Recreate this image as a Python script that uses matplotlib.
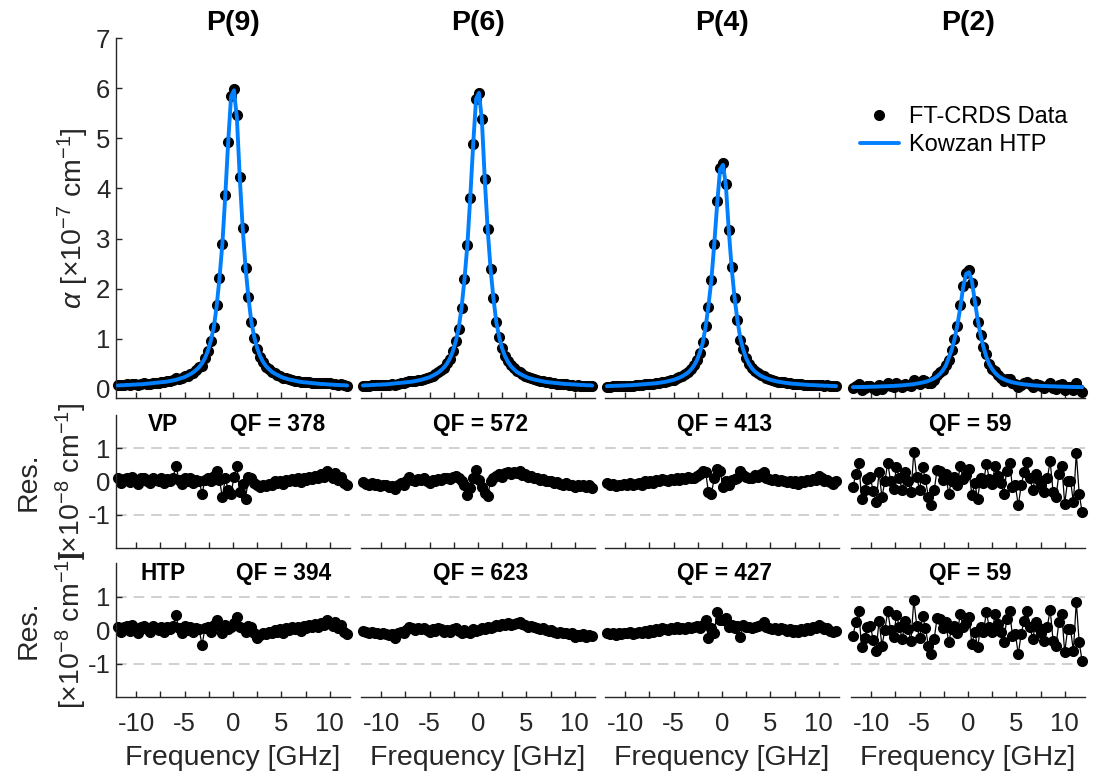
import numpy as np
import matplotlib
matplotlib.use("Agg")
import matplotlib.pyplot as plt

plt.rcParams.update({
    "font.family": ["Liberation Sans", "DejaVu Sans"],
    "mathtext.fontset": "custom",
    "mathtext.rm": "Liberation Sans",
    "mathtext.it": "Liberation Sans:italic",
    "mathtext.bf": "Liberation Sans:bold",
    "axes.unicode_minus": False,
})

# ---------------- data ----------------
line_names = ["P(9)", "P(6)", "P(4)", "P(2)"]
qf_vp = [378, 572, 413, 59]
qf_htp = [394, 623, 427, 59]

# frequency grid [GHz]
freq_start = -11.9
freq_step = 0.3
n_points = 80
freq = np.round(freq_start + freq_step * np.arange(n_points), 2)

# fitted HTP model, alpha [1e-7 cm^-1]
model_p9 = [
    0.069, 0.075, 0.075, 0.081, 0.081, 0.087, 0.087, 0.093, 0.093, 0.099,
    0.105, 0.111, 0.117, 0.123, 0.129, 0.135, 0.141, 0.147, 0.159, 0.171,
    0.183, 0.201, 0.219, 0.237, 0.267, 0.297, 0.333, 0.381, 0.435, 0.513,
    0.615, 0.759, 0.957, 1.215, 1.635, 2.205, 2.895, 3.855, 4.917, 5.835,
    5.955, 5.415, 4.215, 3.213, 2.415, 1.815, 1.335, 1.035, 0.813, 0.657,
    0.543, 0.459, 0.399, 0.345, 0.309, 0.279, 0.249, 0.225, 0.207, 0.189,
    0.177, 0.165, 0.153, 0.141, 0.135, 0.129, 0.123, 0.117, 0.111, 0.105,
    0.099, 0.099, 0.093, 0.090, 0.087, 0.081, 0.081, 0.075, 0.075, 0.069]
model_p6 = [
    0.069, 0.074, 0.074, 0.080, 0.080, 0.086, 0.086, 0.092, 0.092, 0.098,
    0.104, 0.110, 0.116, 0.122, 0.128, 0.134, 0.140, 0.146, 0.158, 0.170,
    0.182, 0.199, 0.217, 0.235, 0.265, 0.295, 0.330, 0.378, 0.432, 0.509,
    0.610, 0.753, 0.949, 1.205, 1.622, 2.187, 2.871, 3.823, 4.876, 5.787,
    5.906, 5.370, 4.180, 3.186, 2.395, 1.800, 1.324, 1.027, 0.806, 0.652,
    0.539, 0.455, 0.396, 0.342, 0.307, 0.277, 0.247, 0.223, 0.205, 0.188,
    0.176, 0.164, 0.152, 0.140, 0.134, 0.128, 0.122, 0.116, 0.110, 0.104,
    0.098, 0.098, 0.092, 0.089, 0.086, 0.080, 0.080, 0.074, 0.074, 0.069]
model_p4 = [
    0.056, 0.060, 0.060, 0.065, 0.065, 0.069, 0.069, 0.074, 0.074, 0.078,
    0.083, 0.087, 0.092, 0.096, 0.101, 0.105, 0.110, 0.114, 0.123, 0.132,
    0.141, 0.155, 0.168, 0.182, 0.204, 0.227, 0.254, 0.290, 0.330, 0.389,
    0.465, 0.573, 0.722, 0.915, 1.230, 1.658, 2.175, 2.895, 3.692, 4.380,
    4.470, 4.063, 3.165, 2.414, 1.815, 1.365, 1.005, 0.780, 0.614, 0.497,
    0.411, 0.348, 0.303, 0.263, 0.236, 0.213, 0.191, 0.173, 0.159, 0.146,
    0.137, 0.128, 0.119, 0.110, 0.105, 0.101, 0.096, 0.092, 0.087, 0.083,
    0.078, 0.078, 0.074, 0.071, 0.069, 0.065, 0.065, 0.060, 0.060, 0.056]
model_p2 = [
    0.037, 0.038, 0.038, 0.040, 0.040, 0.043, 0.044, 0.046, 0.047, 0.050,
    0.052, 0.054, 0.057, 0.059, 0.062, 0.065, 0.069, 0.073, 0.078, 0.084,
    0.090, 0.096, 0.107, 0.117, 0.129, 0.143, 0.161, 0.184, 0.213, 0.250,
    0.301, 0.371, 0.464, 0.616, 0.772, 0.989, 1.275, 1.618, 2.037, 2.293,
    2.328, 2.154, 1.757, 1.385, 1.070, 0.837, 0.639, 0.492, 0.397, 0.320,
    0.266, 0.222, 0.194, 0.168, 0.150, 0.133, 0.121, 0.109, 0.101, 0.093,
    0.086, 0.080, 0.074, 0.070, 0.066, 0.061, 0.059, 0.057, 0.054, 0.053,
    0.051, 0.048, 0.047, 0.045, 0.043, 0.041, 0.040, 0.039, 0.038, 0.037]

# residuals [1e-8 cm^-1], Voigt profile (VP)
res_vp_p9 = [
    0.10, -0.05, 0.08, 0.12, -0.02, 0.15, 0.05, -0.08, 0.10, 0.12,
    0.02, -0.05, 0.12, 0.05, 0.00, 0.10, -0.06, 0.08, 0.02, 0.12,
    0.48, 0.05, -0.08, 0.12, 0.00, 0.10, -0.05, 0.05, 0.02, -0.37,
    0.05, 0.12, 0.00, 0.18, 0.33, 0.05, -0.47, 0.10, -0.25, -0.37,
    0.13, 0.48, -0.32, -0.07, -0.52, 0.13, 0.10, -0.05, -0.12, -0.18,
    -0.10, -0.15, -0.08, -0.12, 0.00, -0.05, 0.02, -0.08, 0.05, 0.00,
    0.08, 0.02, 0.10, -0.02, 0.12, 0.05, 0.15, 0.08, 0.18, 0.10,
    0.22, 0.15, 0.33, 0.20, 0.12, 0.25, 0.05, 0.15, -0.05, -0.12]
res_vp_p6 = [
    -0.02, -0.08, -0.10, -0.05, -0.12, -0.08, -0.15, -0.10, -0.12, -0.18,
    -0.15, -0.22, -0.10, -0.05, -0.12, 0.00, 0.15, 0.05, 0.00, 0.08,
    0.05, 0.10, 0.02, -0.05, 0.05, 0.00, 0.08, 0.05, 0.12, 0.10,
    0.08, 0.15, 0.18, 0.12, 0.00, -0.10, -0.42, -0.20, 0.10, 0.36,
    0.05, -0.17, -0.35, -0.45, 0.03, 0.10, 0.18, 0.22, 0.15, 0.25,
    0.28, 0.22, 0.30, 0.25, 0.31, 0.20, 0.22, 0.15, 0.18, 0.12,
    0.10, 0.05, 0.08, 0.02, 0.00, 0.03, -0.05, -0.02, -0.08, -0.10,
    -0.05, -0.12, -0.10, -0.17, -0.12, -0.15, -0.10, -0.18, -0.12, -0.19]
res_vp_p4 = [
    -0.05, -0.12, -0.08, -0.15, -0.10, -0.12, -0.08, -0.10, -0.05, -0.12,
    -0.08, -0.05, -0.10, 0.00, -0.05, 0.02, -0.05, 0.05, 0.00, 0.08,
    0.05, 0.02, 0.08, 0.05, 0.12, 0.05, 0.10, 0.08, 0.15, 0.10,
    0.12, 0.18, 0.22, 0.33, 0.30, -0.33, -0.37, 0.10, 0.38, 0.33,
    -0.17, 0.00, -0.10, 0.05, 0.08, 0.12, 0.33, 0.20, 0.15, 0.10,
    0.12, 0.20, 0.15, 0.22, 0.30, 0.10, 0.08, 0.05, 0.08, 0.02,
    0.05, 0.00, -0.02, 0.03, -0.05, 0.00, -0.07, 0.02, -0.03, 0.05,
    0.00, 0.08, 0.05, 0.18, 0.10, 0.02, 0.05, -0.02, -0.07, 0.00]
res_vp_p2 = [
    -0.17, 0.23, 0.56, -0.52, -0.25, 0.08, 0.13, -0.30, -0.62, 0.28,
    -0.47, 0.00, 0.56, 0.00, -0.22, 0.45, 0.10, -0.27, 0.28, 0.02,
    -0.32, 0.90, 0.13, -0.25, 0.43, 0.07, -0.47, -0.72, -0.27, 0.35,
    0.33, 0.05, 0.23, -0.37, 0.03, 0.13, -0.10, 0.48, 0.08, 0.20,
    0.38, -0.42, -0.05, -0.52, 0.10, -0.05, 0.53, 0.08, -0.07, 0.48,
    0.18, -0.05, -0.37, 0.33, 0.56, -0.17, -0.12, -0.72, -0.12, 0.28,
    0.58, 0.10, -0.27, 0.23, 0.05, -0.10, -0.32, 0.10, 0.61, -0.32,
    -0.47, 0.23, 0.48, -0.67, 0.02, 0.03, -0.62, 0.85, -0.37, -0.92]

# residuals [1e-8 cm^-1], Hartmann-Tran profile (HTP)
res_htp_p9 = [
    0.10, -0.05, 0.08, 0.12, -0.02, 0.15, 0.05, -0.08, 0.10, 0.12,
    0.02, -0.05, 0.12, 0.05, 0.00, 0.10, -0.06, 0.08, 0.02, 0.12,
    0.45, 0.05, -0.08, 0.12, 0.00, 0.10, -0.05, 0.05, 0.02, -0.45,
    0.05, 0.08, -0.05, 0.15, 0.30, 0.12, -0.10, 0.15, 0.02, 0.08,
    0.20, 0.40, 0.10, 0.05, -0.05, 0.12, 0.08, -0.10, -0.25, -0.15,
    -0.08, -0.12, -0.05, -0.10, 0.00, -0.05, 0.02, -0.08, 0.05, 0.00,
    0.08, 0.02, 0.10, -0.02, 0.12, 0.05, 0.15, 0.08, 0.18, 0.10,
    0.22, 0.15, 0.30, 0.20, 0.12, 0.25, 0.05, 0.15, -0.05, -0.13]
res_htp_p6 = [
    -0.02, -0.05, -0.08, -0.05, -0.10, -0.08, -0.12, -0.10, -0.12, -0.15,
    -0.12, -0.25, -0.10, -0.05, -0.10, 0.00, 0.10, 0.05, 0.00, 0.05,
    0.02, 0.05, 0.00, -0.05, 0.02, -0.02, 0.05, 0.02, -0.05, 0.00,
    -0.05, 0.02, 0.05, -0.02, -0.08, 0.00, -0.05, -0.10, 0.02, -0.02,
    0.00, 0.05, 0.02, 0.08, 0.05, 0.10, 0.15, 0.12, 0.18, 0.15,
    0.20, 0.15, 0.18, 0.22, 0.25, 0.18, 0.15, 0.10, 0.12, 0.08,
    0.05, 0.02, 0.05, 0.00, -0.02, 0.00, -0.05, -0.08, -0.05, -0.10,
    -0.08, -0.12, -0.10, -0.22, -0.15, -0.18, -0.12, -0.20, -0.15, -0.18]
res_htp_p4 = [
    -0.08, -0.12, -0.10, -0.15, -0.08, -0.12, -0.10, -0.08, -0.05, -0.12,
    -0.10, -0.05, -0.10, -0.02, -0.08, 0.00, -0.05, 0.03, -0.02, 0.05,
    0.02, 0.00, 0.05, 0.02, 0.08, 0.03, 0.05, 0.02, 0.10, 0.05,
    0.08, 0.12, 0.05, 0.15, 0.30, -0.25, 0.05, -0.08, 0.55, 0.30,
    0.30, 0.35, 0.10, 0.15, 0.05, 0.12, -0.20, 0.15, 0.10, 0.08,
    0.05, 0.10, 0.12, 0.15, 0.25, 0.08, 0.05, 0.02, 0.05, 0.00,
    0.05, 0.02, -0.03, 0.03, -0.05, 0.00, -0.05, 0.02, -0.03, 0.05,
    0.00, 0.08, 0.05, 0.15, 0.08, 0.02, 0.05, -0.02, -0.05, -0.02]
res_htp_p2 = [
    -0.17, 0.23, 0.56, -0.52, -0.25, 0.08, 0.13, -0.30, -0.62, 0.28,
    -0.47, 0.00, 0.56, 0.00, -0.22, 0.45, 0.10, -0.27, 0.28, 0.02,
    -0.32, 0.90, 0.13, -0.25, 0.43, 0.07, -0.47, -0.72, -0.27, 0.35,
    0.33, 0.05, 0.23, -0.37, 0.03, 0.13, -0.10, 0.48, 0.08, 0.20,
    0.38, -0.42, -0.05, -0.52, 0.10, -0.05, 0.53, 0.08, -0.07, 0.48,
    0.18, -0.05, -0.37, 0.33, 0.56, -0.17, -0.12, -0.72, -0.12, 0.28,
    0.58, 0.10, -0.27, 0.23, 0.05, -0.10, -0.32, 0.10, 0.61, -0.32,
    -0.47, 0.23, 0.48, -0.67, 0.02, 0.03, -0.62, 0.85, -0.37, -0.92]

models = [model_p9, model_p6, model_p4, model_p2]
res_vp = [res_vp_p9, res_vp_p6, res_vp_p4, res_vp_p2]
res_htp = [res_htp_p9, res_htp_p6, res_htp_p4, res_htp_p2]

x_ticks = [-10, -7.5, -5, -2.5, 0, 2.5, 5, 7.5, 10]
x_ticklabels = ["-10", "", "-5", "", "0", "", "5", "", "10"]

# ---------------- style ----------------
W, H = 1096, 780
DARK = "#262626"
BLUE = "#0080ff"
GRID = "#c4c4c4"
TICK_FS = 18.5
LABEL_FS = 20.5
TITLE_FS = 20.5
LEGEND_FS = 17
QF_FS = 16.3
MS = 7.0

col_left_px = [116, 361, 605, 851]
col_w_px = 234
rows_px = [(38, 398), (415, 548), (563, 697)]  # (top, bottom)

fig = plt.figure(figsize=(W / 100, H / 100), dpi=100)


def make_ax(j, r):
    top, bot = rows_px[r]
    ax = fig.add_axes([col_left_px[j] / W, 1 - bot / H, col_w_px / W, (bot - top) / H])
    ax.patch.set_alpha(0)
    for s in ["top", "right"]:
        ax.spines[s].set_visible(False)
    ax.spines["bottom"].set_color(DARK)
    ax.spines["left"].set_color(DARK)
    ax.spines["bottom"].set_linewidth(1.0)
    ax.spines["left"].set_linewidth(1.0)
    ax.set_xlim(-12.1, 12.1)
    ax.set_xticks(x_ticks)
    if r == 2:
        ax.set_xticklabels(x_ticklabels)
        ax.set_xlabel("Frequency [GHz]", fontsize=LABEL_FS, color=DARK, labelpad=6)
    else:
        ax.set_xticklabels([])
    ax.tick_params(axis="both", direction="in", length=4, width=1.0, color=DARK,
                   labelcolor=DARK, labelsize=TICK_FS)
    ax.tick_params(axis="x", pad=11)
    ax.tick_params(axis="y", pad=4)
    if j > 0:
        ax.spines["left"].set_visible(False)
        ax.tick_params(axis="y", left=False, labelleft=False)
    return ax


for j in range(4):
    model = np.array(models[j])
    data = model + 0.1 * np.array(res_htp[j])

    ax = make_ax(j, 0)
    ax.plot(freq, data, "o", color="black", ms=MS, clip_on=False, zorder=2,
            label="FT-CRDS Data")
    ax.plot(freq, model, "-", color=BLUE, lw=2.8, clip_on=False, zorder=3,
            label="Kowzan HTP", solid_capstyle="round")
    ax.set_ylim(-0.18, 7)
    ax.set_yticks(range(0, 8))
    ax.set_title(line_names[j], fontsize=TITLE_FS, fontweight="bold", color="black", pad=6)
    if j == 0:
        ax.set_ylabel(r"$\alpha$ [$\times$10$^{-7}$ cm$^{-1}$]", fontsize=LABEL_FS,
                      color=DARK, labelpad=4)
    if j == 3:
        ax.legend(loc="upper left", bbox_to_anchor=(0.037, 0.81), frameon=False,
                  fontsize=LEGEND_FS, handlelength=1.65, handletextpad=0.45,
                  labelspacing=0.25, borderpad=0, borderaxespad=0)

    for r, res, qf, tag in [(1, res_vp[j], qf_vp[j], "VP"), (2, res_htp[j], qf_htp[j], "HTP")]:
        ax = make_ax(j, r)
        for yv in (1, -1):
            ax.axhline(yv, color=GRID, lw=1.1, ls=(0, (7, 4.5)), zorder=0)
        ax.plot(freq, res, "-o", color="black", ms=MS, lw=0.9, clip_on=False, zorder=2)
        ax.set_ylim(-2, 2)
        ax.set_yticks([-1, 0, 1])
        if j == 0:
            ax.text(0.20, 0.925, tag, transform=ax.transAxes, ha="center", va="center",
                    fontsize=QF_FS, fontweight="bold", color="black")
            qx = 0.69 if r == 1 else 0.715
        else:
            qx = 0.51
        ax.text(qx, 0.925, f"QF = {qf}", transform=ax.transAxes, ha="center",
                va="center", fontsize=QF_FS, fontweight="bold", color="black")
        if j == 0:
            ax.set_ylabel("Res.\n" + r"[$\times$10$^{-8}$ cm$^{-1}$]", fontsize=LABEL_FS,
                          color=DARK, labelpad=-1, linespacing=1.45)

fig.savefig("out.png", dpi=100)
